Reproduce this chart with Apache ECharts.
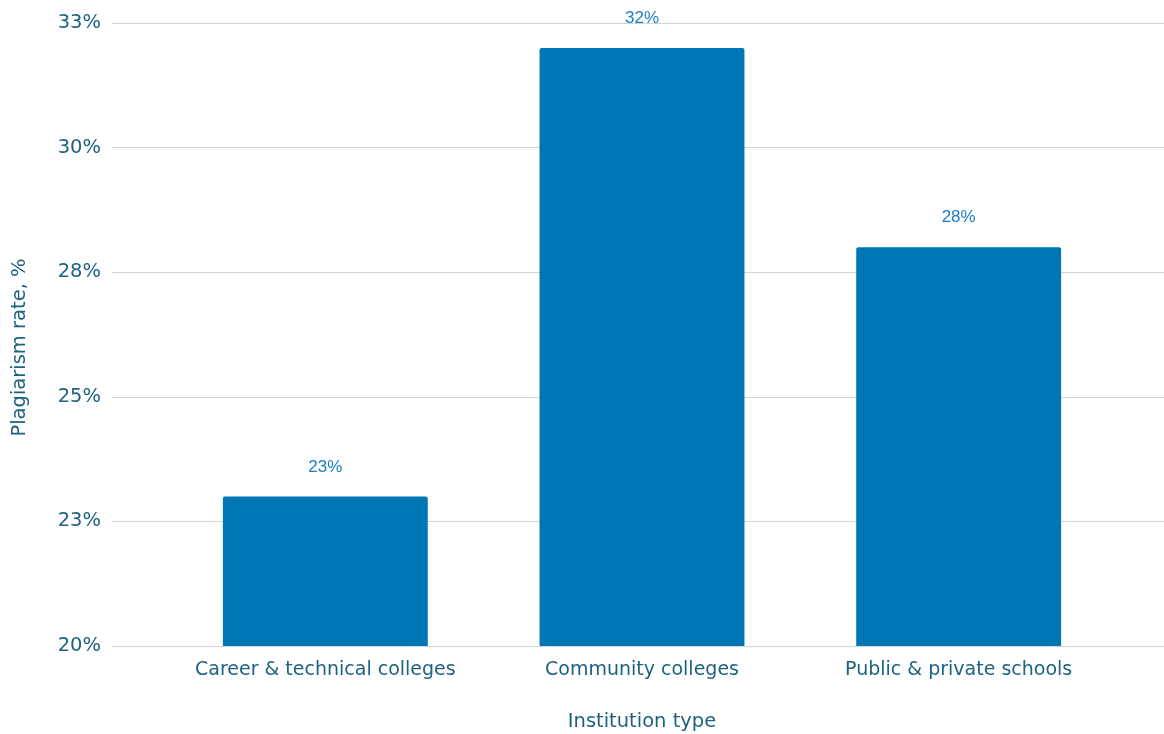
<!DOCTYPE html>
<html>
<head>
<meta charset="utf-8">
<script src="https://cdn.jsdelivr.net/npm/echarts@6/dist/echarts.min.js"></script>
<style>html,body{margin:0;padding:0;background:#fff;}#c{width:1164px;height:734px;}</style>
</head>
<body>
<div id="c"></div>
<script>
const categories = ["Career & technical colleges", "Community colleges", "Public & private schools"];
const rates = [23, 32, 28];
const yMin = 20, yMax = 32.5, yStep = 2.5;

const chart = echarts.init(document.getElementById('c'));
const axisColor = '#1d6380';
const fs = 19.5;
chart.setOption({
  animation: false,
  grid: [
    { left: 112, right: 0, top: 23, bottom: 88, outerBoundsMode: 'none' },
    { left: 167, right: 47, top: 23, bottom: 88, outerBoundsMode: 'none' }
  ],
  xAxis: [
    { type: 'value', gridIndex: 0, show: false, min: 0, max: 1 },
    {
      type: 'category',
      gridIndex: 1,
      data: categories,
      name: 'Institution type',
      nameLocation: 'middle',
      nameGap: 66,
      nameTextStyle: { color: axisColor, fontFamily: 'DejaVu Sans', fontSize: fs },
      axisLine: { show: false },
      axisTick: { show: false },
      axisLabel: { color: axisColor, fontFamily: 'DejaVu Sans', fontSize: 19, margin: 15, interval: 0 }
    }
  ],
  yAxis: [
    {
      type: 'value',
      gridIndex: 0,
      min: yMin, max: yMax, interval: yStep,
      name: 'Plagiarism rate, %',
      nameLocation: 'middle',
      nameGap: 82,
      nameTextStyle: { color: axisColor, fontFamily: 'DejaVu Sans', fontSize: fs, padding: [0, 26, 0, 0] },
      axisLine: { show: false },
      axisTick: { show: false },
      splitLine: { lineStyle: { color: '#d4d4d4', width: 1 } },
      axisLabel: {
        color: axisColor, fontFamily: 'DejaVu Sans', fontSize: fs, margin: 11,
        padding: [4, 0, 0, 0],
        formatter: v => Math.round(v) + '%'
      }
    },
    {
      type: 'value',
      gridIndex: 1,
      min: yMin, max: yMax, interval: yStep,
      show: false
    }
  ],
  series: [{
    type: 'bar',
    xAxisIndex: 1,
    yAxisIndex: 1,
    data: rates,
    barWidth: '64.7%',
    itemStyle: { color: '#0077b4', borderRadius: [2, 2, 0, 0] },
    label: {
      show: true, position: 'top', distance: 21,
      color: '#1a7fc0', fontFamily: 'Liberation Sans', fontSize: 17,
      formatter: p => Math.round(p.value) + '%'
    }
  }]
});
</script>
</body>
</html>
